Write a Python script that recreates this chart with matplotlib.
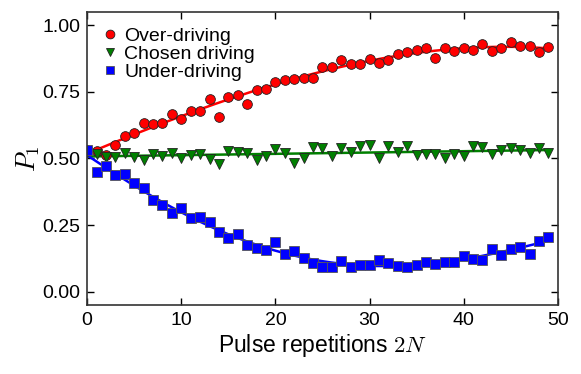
import numpy as np
import matplotlib
matplotlib.use("Agg")
import matplotlib.pyplot as plt

plt.rcParams["font.family"] = ["Liberation Sans", "DejaVu Sans"]
plt.rcParams["mathtext.fontset"] = "cm"
plt.rcParams["font.size"] = 14

# --- data ---
n = np.arange(50)

over = [0.53, 0.529, 0.513, 0.55, 0.585, 0.594, 0.635, 0.63, 0.633, 0.666,
        0.649, 0.678, 0.68, 0.724, 0.656, 0.731, 0.738, 0.703, 0.756, 0.761,
        0.787, 0.796, 0.80, 0.803, 0.803, 0.844, 0.844, 0.869, 0.856, 0.855,
        0.875, 0.857, 0.869, 0.891, 0.898, 0.906, 0.914, 0.877, 0.915, 0.904,
        0.915, 0.906, 0.931, 0.904, 0.913, 0.936, 0.924, 0.922, 0.90, 0.919]

chosen = [0.525, 0.516, 0.506, 0.506, 0.519, 0.504, 0.496, 0.516, 0.509, 0.519,
          0.503, 0.513, 0.516, 0.499, 0.478, 0.529, 0.525, 0.519, 0.494, 0.51,
          0.534, 0.521, 0.484, 0.501, 0.544, 0.538, 0.509, 0.538, 0.525, 0.546,
          0.55, 0.503, 0.548, 0.525, 0.546, 0.514, 0.518, 0.518, 0.503, 0.518,
          0.511, 0.546, 0.544, 0.515, 0.532, 0.54, 0.53, 0.521, 0.54, 0.519]

under = [0.53, 0.45, 0.472, 0.437, 0.441, 0.409, 0.388, 0.344, 0.325, 0.296,
         0.313, 0.275, 0.279, 0.26, 0.223, 0.203, 0.215, 0.175, 0.163, 0.156,
         0.185, 0.141, 0.154, 0.125, 0.106, 0.091, 0.094, 0.115, 0.093, 0.099,
         0.099, 0.12, 0.109, 0.098, 0.093, 0.099, 0.111, 0.103, 0.113, 0.111,
         0.133, 0.123, 0.12, 0.159, 0.138, 0.16, 0.169, 0.141, 0.191, 0.206]

# --- fits ---
nf = np.linspace(0, 49, 200)
fit_over = np.polyval(np.polyfit(n, over, 3), nf)
fit_chosen = np.polyval(np.polyfit(n, chosen, 1), nf)
fit_under = np.polyval(np.polyfit(n, under, 4), nf)

fig = plt.figure(figsize=(5.81, 3.74), dpi=100)
ax = fig.add_axes([0.15, 0.1845, 0.81, 0.7835])

ax.plot(nf, fit_over, color="red", lw=1.8)
ax.plot(nf, fit_chosen, color="green", lw=1.8)
ax.plot(nf, fit_under, color="blue", lw=1.8)

ax.plot(n, over, "o", color="red", mec="#222222", mew=0.6, ms=7, label="Over-driving")
ax.plot(n, chosen, "v", color="green", mec="#222222", mew=0.6, ms=7, label="Chosen driving")
ax.plot(n, under, "s", color="blue", mec="#555555", mew=0.6, ms=6.5, label="Under-driving")

ax.set_xlim(0, 50)
ax.set_ylim(-0.05, 1.05)
ax.set_xticks([0, 10, 20, 30, 40, 50])
ax.set_yticks([0, 0.25, 0.5, 0.75, 1.0])
ax.set_yticklabels(["0.00", "0.25", "0.50", "0.75", "1.00"])
ax.tick_params(direction="in", top=True, right=True, length=5, width=1, pad=5,
               labelsize=14)
for s in ax.spines.values():
    s.set_linewidth(1.2)
    s.set_color("#333333")

ax.set_xlabel("Pulse repetitions $2N$", fontsize=16.5, labelpad=2)
ax.set_ylabel("$P_1$", fontsize=19, labelpad=0)

ax.legend(loc="upper left", bbox_to_anchor=(0.0, 1.0), frameon=False, numpoints=1,
          handlelength=0.8, handletextpad=0.3, labelspacing=0.02, borderaxespad=0.4,
          fontsize=14, markerscale=0.9)

fig.savefig("out.png", dpi=100)
